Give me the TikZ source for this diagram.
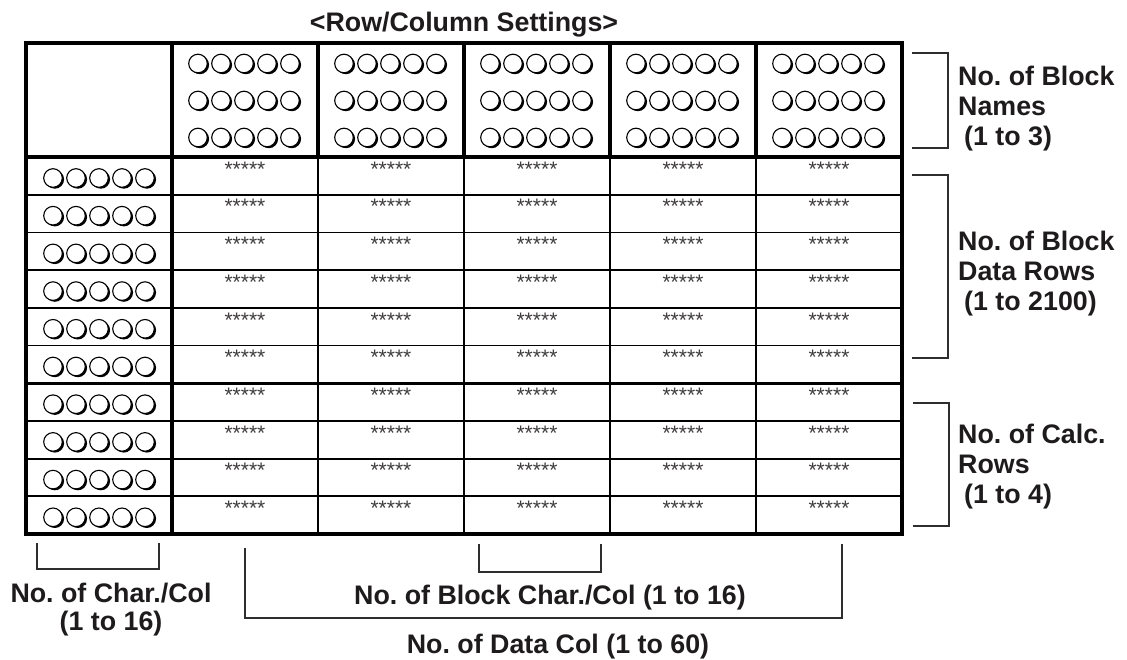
\documentclass[tikz,border=0pt]{standalone}
\usepackage{fontspec}
\setmainfont{Liberation Sans}[BoldFont=Liberation Sans Bold]
\definecolor{ink}{HTML}{1E1B1C}
\definecolor{brk}{HTML}{2E2E2E}
\frenchspacing
\begin{document}
\begin{tikzpicture}[x=1pt,y=-1pt,
  lbl/.style={font=\bfseries\fontsize{26.8}{30}\selectfont, text=ink, inner sep=0pt},
  starsty/.style={font=\fontsize{21}{21}\selectfont, text=ink!85, inner sep=0pt},
  bracket/.style={draw=brk, line width=2pt},
  lightln/.style={line width=1.8pt},
  midln/.style={line width=2pt},
  heavyln/.style={line width=3.3pt},
  ooooo/.pic={
    \foreach \k in {-2,...,2}{
      \fill[black] ({\k*23+1.8},1.4) ellipse [x radius=9.3pt, y radius=9.3pt];
      \fill[white] ({\k*23},0) ellipse [x radius=9.3pt, y radius=9.3pt];
      \draw[line width=1.1pt] ({\k*23},0) ellipse [x radius=9.3pt, y radius=9.3pt];
    }
  }]
\useasboundingbox (0,0) rectangle (1127,659);
\fill[white] (0,0) rectangle (1127,659);

% title
\node[lbl, anchor=base] (title) at (464,31) {<Row/Column Settings>};

% grid: thin horizontal data lines
\foreach \i in {1,...,9}{
  \draw[lightln] (26,{157+37.7*\i}) -- (902,{157+37.7*\i});
}
% data column separators
\foreach \x in {318,464,610,756}{
  \draw[midln] (\x,157) -- (\x,534);
  \draw[heavyln] (\x,43) -- (\x,157);
}
\draw[heavyln] (172,43) -- (172,534);
\draw[heavyln] (26,157) -- (902,157);
\draw[heavyln] (26,383.2) -- (902,383.2);
\draw[heavyln] (26,43) rectangle (902,534);

% header block names (3 per column)
\foreach \c in {1,...,5}{
  \foreach \r in {0,1,2}{
    \pic (hd\c\r) at ({172+146*(\c-1)+72},{63.5+37*\r}) {ooooo};
  }
}
% row header circles and data stars
\foreach \i in {0,...,9}{
  \pic (rh\i) at (99,{157+37.7*\i+21}) {ooooo};
  \foreach \c in {1,...,5}{
    \node[starsty] (st\i\c) at ({172+146*(\c-1)+73},{157+37.7*\i+12}) {*****};
  }
}

% right brackets
\draw[bracket] (912,53) -- (948,53) -- (948,148) -- (912,148);
\draw[bracket] (912,175) -- (948,175) -- (948,358) -- (912,358);
\draw[bracket] (913,403) -- (949,403) -- (949,526) -- (913,526);

\node[lbl, align=left, anchor=north west] (names) at (958,66)
  {No. of Block\\Names\\\hspace*{6pt}(1 to 3)};
\node[lbl, align=left, anchor=north west] (datarows) at (958,231)
  {No. of Block\\Data Rows\\\hspace*{6pt}(1 to 2100)};
\node[lbl, align=left, anchor=north west] (calcrows) at (958,424)
  {No. of Calc.\\Rows\\\hspace*{6pt}(1 to 4)};

% bottom brackets
\draw[bracket] (37,543) -- (37,569) -- (159,569) -- (159,543);
\draw[bracket] (479,544) -- (479,572) -- (601,572) -- (601,544);
\draw[bracket] (245,548) -- (245,618) -- (842,618) -- (842,544);

\node[lbl, align=center, anchor=north, font=\bfseries\fontsize{26.8}{28}\selectfont] (charcol) at (111,583)
  {No. of Char./Col\\(1 to 16)};
\node[lbl, anchor=base] (blockchar) at (550,604) {No. of Block Char./Col (1 to 16)};
\node[lbl, anchor=base] (datacol) at (558,653) {No. of Data Col (1 to 60)};
\end{tikzpicture}
\end{document}
